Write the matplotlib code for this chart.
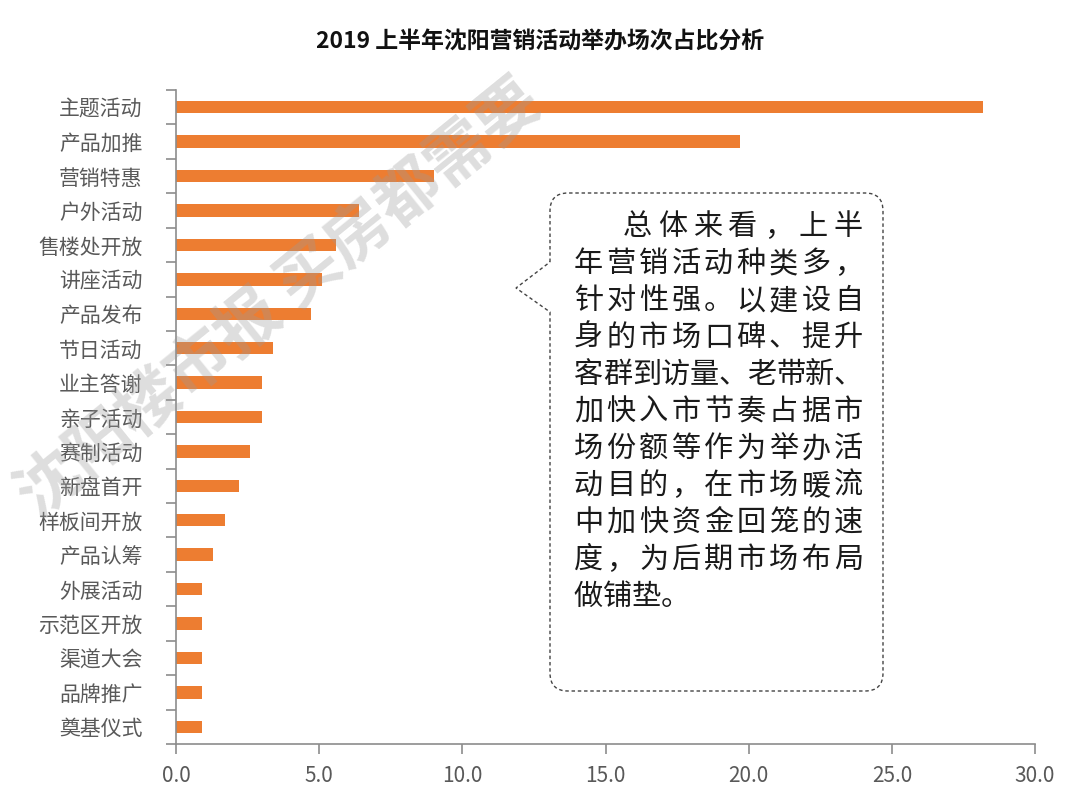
import matplotlib
matplotlib.use('Agg')
import matplotlib.pyplot as plt
from matplotlib.path import Path
from matplotlib.patches import PathPatch

plt.rcParams['font.family'] = ['Noto Sans CJK SC', 'DejaVu Sans']

# 数据
categories = ['主题活动', '产品加推', '营销特惠', '户外活动', '售楼处开放', '讲座活动',
              '产品发布', '节日活动', '业主答谢', '亲子活动', '赛制活动', '新盘首开',
              '样板间开放', '产品认筹', '外展活动', '示范区开放', '渠道大会', '品牌推广',
              '奠基仪式']
values = [28.2, 19.7, 9.0, 6.4, 5.6, 5.1, 4.7, 3.4, 3.0, 3.0, 2.6, 2.2,
          1.7, 1.3, 0.9, 0.9, 0.9, 0.9, 0.9]
x_ticks = [0, 5, 10, 15, 20, 25, 30]

title = '2019 上半年沈阳营销活动举办场次占比分析'
note_lines = ['总体来看，上半', '年营销活动种类多，', '针对性强。以建设自',
              '身的市场口碑、提升', '客群到访量、老带新、', '加快入市节奏占据市',
              '场份额等作为举办活', '动目的，在市场暖流', '中加快资金回笼的速',
              '度，为后期市场布局', '做铺垫。']
watermark = '沈阳楼市报 买房都需要'

BAR_COLOR = '#ED7D31'
AXIS_COLOR = '#8c8c8c'
LABEL_COLOR = '#595959'

fig = plt.figure(figsize=(10.8, 8.06), dpi=100)
ax = fig.add_axes([176 / 1080, 1 - 744 / 806, (1035 - 176) / 1080, (744 - 90) / 806])

y = list(range(len(categories)))
ax.barh(y, values, height=0.36, color=BAR_COLOR, zorder=2)
ax.set_ylim(len(categories) - 0.5, -0.5)
ax.set_xlim(0, 30)

ax.set_yticks(y)
ax.set_yticklabels(categories, fontsize=15, color=LABEL_COLOR)
ax.set_yticks([i + 0.5 for i in range(-1, len(categories))], minor=True)
ax.tick_params(axis='y', which='major', length=0, pad=24)
ax.tick_params(axis='y', which='minor', length=7, color=AXIS_COLOR, width=1.2)

ax.set_xticks(x_ticks)
ax.set_xticklabels([f'{v:.1f}' for v in x_ticks], fontsize=15, color=LABEL_COLOR)
ax.tick_params(axis='x', length=7, color=AXIS_COLOR, width=1.2, pad=8)

for s in ['top', 'right']:
    ax.spines[s].set_visible(False)
for s in ['left', 'bottom']:
    ax.spines[s].set_color(AXIS_COLOR)
    ax.spines[s].set_linewidth(1.2)

fig.text(0.5, 1 - 42 / 806, title, ha='center', va='center', fontsize=16.5,
         fontweight='bold', color='#111111')

# 像素坐标覆盖层，用于对话框和水印
ov = fig.add_axes([0, 0, 1, 1], zorder=5)
ov.set_xlim(0, 1080)
ov.set_ylim(806, 0)
ov.axis('off')
ov.patch.set_alpha(0)

L, T, R, B, r = 550, 193, 883, 691, 18
verts = [(L, 262), (L, T + r), (L, T), (L + r, T), (R - r, T), (R, T), (R, T + r),
         (R, B - r), (R, B), (R - r, B), (L + r, B), (L, B), (L, B - r),
         (L, 312), (516, 288), (L, 262)]
codes = [Path.MOVETO, Path.LINETO, Path.CURVE3, Path.CURVE3, Path.LINETO, Path.CURVE3,
         Path.CURVE3, Path.LINETO, Path.CURVE3, Path.CURVE3, Path.LINETO, Path.CURVE3,
         Path.CURVE3, Path.LINETO, Path.LINETO, Path.CLOSEPOLY]
ov.add_patch(PathPatch(Path(verts, codes), facecolor='white', edgecolor='#444444',
                       lw=1.0, linestyle=(0, (2.5, 2))))

# 两端对齐的文字
left, right, top, step, cw = 574, 863, 227, 37, 29
for i, line in enumerate(note_lines):
    yy = top + i * step
    start = 623 if i == 0 else left
    n = len(line)
    if i == len(note_lines) - 1:
        gap = cw
    else:
        gap = (right - start - cw) / (n - 1)
    for j, ch in enumerate(line):
        ov.text(start + cw / 2 + j * gap, yy, ch, ha='center', va='center',
                fontsize=21, color='#1a1a1a')

ov.text(280, 300, watermark, ha='center', va='center', rotation=39, fontsize=46,
        fontweight='bold', color='#9a9a9a', alpha=0.33)

fig.savefig('out.png', dpi=100, facecolor='white')
